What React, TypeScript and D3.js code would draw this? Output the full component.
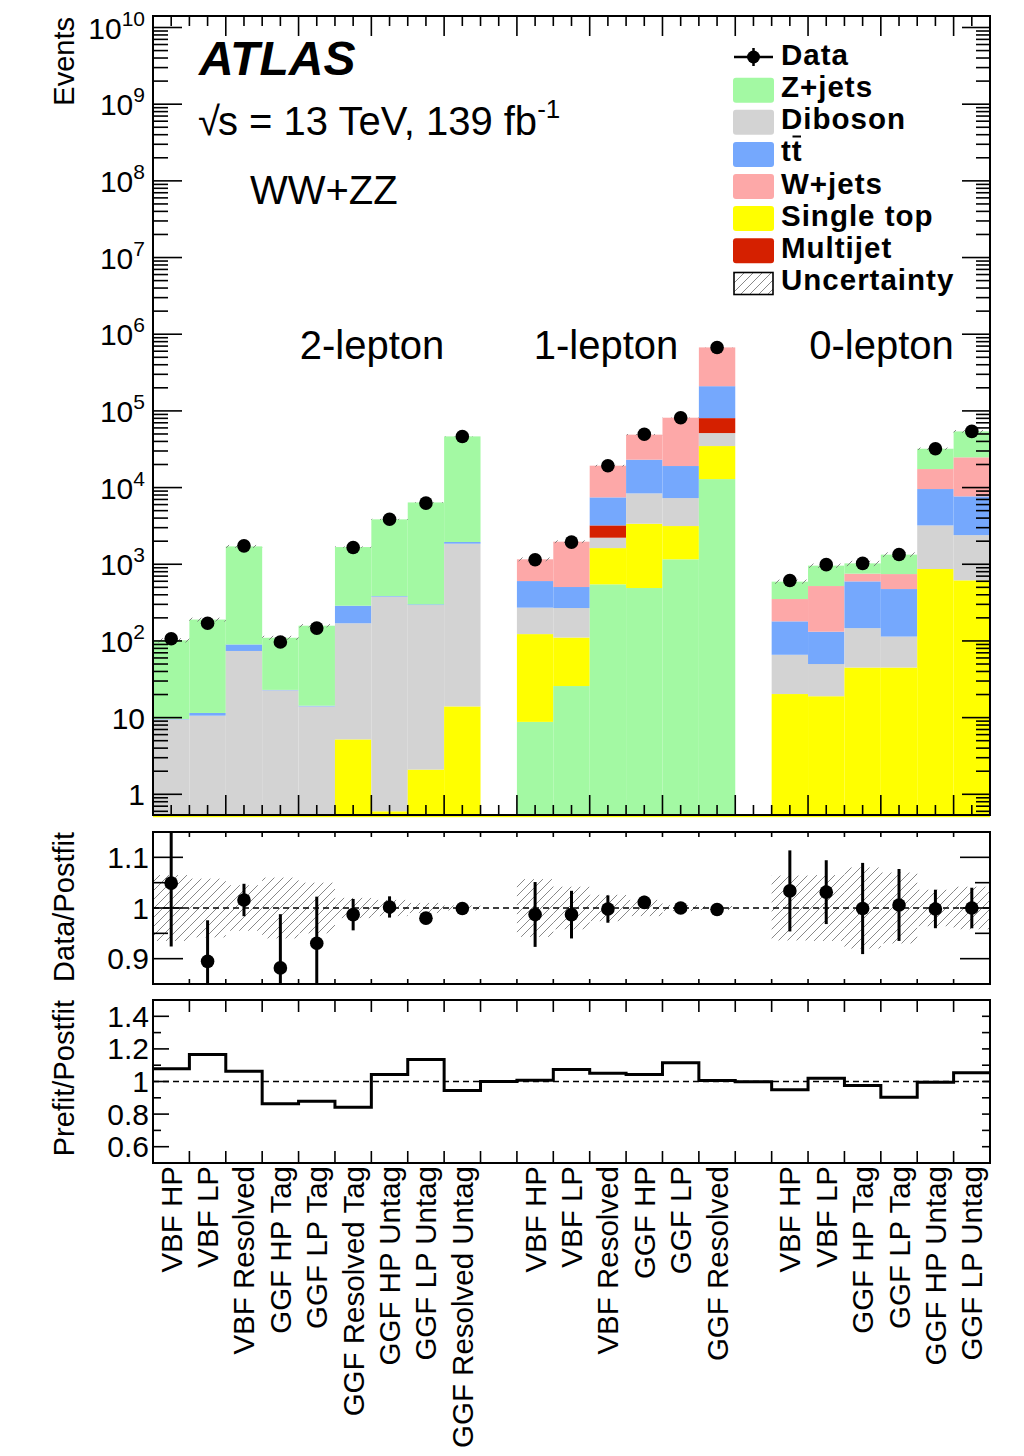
import React from "react";
import * as d3 from "d3";

// ---- bins ----
const categories = [
  "VBF HP", "VBF LP", "VBF Resolved", "GGF HP Tag", "GGF LP Tag", "GGF Resolved Tag",
  "GGF HP Untag", "GGF LP Untag", "GGF Resolved Untag", "",
  "VBF HP", "VBF LP", "VBF Resolved", "GGF HP", "GGF LP", "GGF Resolved", "",
  "VBF HP", "VBF LP", "GGF HP Tag", "GGF LP Tag", "GGF HP Untag", "GGF LP Untag",
];

// ---- analysis regions ----
const regionNames = ["2-lepton", "1-lepton", "0-lepton"];
const regionFirstBin = [0, 10, 17];
const regionLastBin = [8, 15, 22];
const regionLabelCenter = [6.02, 12.45, 20.02];
const stackOrder2L = ["singleTop", "diboson", "ttbar", "zJets"];
const stackOrder1L = ["zJets", "singleTop", "diboson", "multijet", "ttbar", "wJets"];
const stackOrder0L = ["singleTop", "diboson", "ttbar", "wJets", "zJets"];

// ---- post-fit yields per process ----
const zJets = [92.4, 178.5, 1620, 87, 143.7, 1388, 3465, 6100, 44550, 0, 8.8, 25.8, 547, 490, 1160, 12900, 0, 241, 439, 273, 590, 14650, 29200];
const diboson = [9.5, 10.6, 74, 22.7, 14, 164.8, 377.4, 291.9, 1841, 0, 149, 158, 595, 5020, 4150, 16600, 0, 45.7, 31, 102, 69, 2343, 1783];
const ttbar = [0.1, 0.9, 16, 0.3, 0.3, 118, 7, 6, 95, 0, 332, 236, 4240, 14700, 11800, 129500, 0, 114, 82, 451, 361, 6360, 5280];
const wJets = [0, 0, 0, 0, 0, 0, 0, 0, 0, 0, 556, 1465, 11850, 25900, 62400, 463000, 0, 172, 388, 156, 270, 7880, 17120];
const singleTop = [0, 0, 0, 0, 0, 5.2, 0.6, 2.1, 14, 0, 114, 85, 1078, 2890, 1990, 21900, 0, 20.3, 19, 45, 45, 867, 617];
const multijet = [0, 0, 0, 0, 0, 0, 0, 0, 0, 0, 0, 0, 990, 0, 0, 29100, 0, 0, 0, 0, 0, 0, 0];

// ---- observed data ----
const dataEvents = [107, 170, 1737, 97, 147, 1654, 3858, 6272, 46450, null, 1145, 1944, 19260, 49540, 81500, 671000, null, 613, 989, 1026, 1343, 32040, 54000];
const dataRatioErr = [0.125, 0.081, 0.032, 0.106, 0.092, 0.031, 0.021, 0.012, 0.005, null, 0.064, 0.047, 0.027, 0.013, 0.005, 0.002, null, 0.08, 0.063, 0.09, 0.071, 0.038, 0.04];
const postfitRelUnc = [0.065, 0.058, 0.045, 0.06, 0.05, 0.02, 0.016, 0.01, 0.005, null, 0.057, 0.042, 0.026, 0.016, 0.006, 0.004, null, 0.064, 0.065, 0.08, 0.07, 0.036, 0.042];
const prefitOverPostfit = [1.078, 1.166, 1.063, 0.863, 0.879, 0.842, 1.043, 1.135, 0.945, 1.0, 1.008, 1.074, 1.051, 1.043, 1.115, 1.006, 0.998, 0.949, 1.02, 0.975, 0.904, 0.996, 1.053];

// ---- axis ticks ----
const ratioTickValues = [0.9, 1, 1.1];
const ratioTickLabels = ["0.9", "1", "1.1"];
const prefitTickValues = [0.6, 0.8, 1, 1.2, 1.4];
const prefitTickLabels = ["0.6", "0.8", "1", "1.2", "1.4"];
const mainDecades = [0, 1, 2, 3, 4, 5, 6, 7, 8, 9, 10];

// ---- legend ----
const legendLabels = ["Z+jets", "Diboson", "tt", "W+jets", "Single top", "Multijet"];
const legendKeys = ["zJets", "diboson", "ttbar", "wJets", "singleTop", "multijet"];

const yields: Record<string, number[]> = { zJets, diboson, ttbar, wJets, singleTop, multijet };
const processColors: Record<string, string> = {
  zJets: "#a3f9a3",
  diboson: "#d3d3d3",
  ttbar: "#75a8fd",
  wJets: "#fda8a8",
  singleTop: "#ffff00",
  multijet: "#d52000",
};
const stackOrders = [stackOrder2L, stackOrder1L, stackOrder0L];

const W = 1024;
const H = 1456;
const L = 153;
const R = 990;
const mainTop = 16;
const mainBottom = 815;
const ratioTop = 832;
const ratioBottom = 984;
const prefitTop = 1000;
const prefitBottom = 1163;
const nBins = categories.length;

const FONT = "'Liberation Sans', Arial, Helvetica, sans-serif";

export default function App() {
  const x = d3.scaleLinear().domain([0, nBins]).range([L, R]);
  const yMain = d3.scaleLog().domain([Math.pow(10, -0.27), Math.pow(10, 10.15)]).range([mainBottom, mainTop]);
  const yRatio = d3.scaleLinear().domain([0.85, 1.15]).range([ratioBottom, ratioTop]);
  const yPrefit = d3.scaleLinear().domain([0.5, 1.5]).range([prefitBottom, prefitTop]);

  const bw = x(1) - x(0);
  const totals = categories.map((_, i) =>
    Object.keys(yields).reduce((s, k) => s + yields[k][i], 0)
  );

  // stacked histogram segments
  const segments: { x0: number; x1: number; y0: number; y1: number; color: string; key: string }[] = [];
  regionNames.forEach((_, r) => {
    for (let i = regionFirstBin[r]; i <= regionLastBin[r]; i++) {
      let cum = 0;
      stackOrders[r].forEach((p) => {
        const v = yields[p][i];
        if (v <= 0) return;
        const bottom = cum > 0 ? yMain(cum) : mainBottom;
        cum += v;
        segments.push({ x0: x(i), x1: x(i + 1), y0: yMain(cum), y1: bottom, color: processColors[p], key: `${p}-${i}` });
      });
    }
  });

  // log-axis tick positions
  const [lo, hi] = yMain.domain();
  const logTicks: { v: number; major: boolean }[] = [];
  for (let d = -1; d <= 10; d++) {
    for (let m = 1; m <= 9; m++) {
      const v = m * Math.pow(10, d);
      if (v >= lo && v <= hi) logTicks.push({ v, major: m === 1 });
    }
  }

  const halfTicks = d3.range(0, nBins + 0.001, 0.5);
  const binEdges = d3.range(1, nBins);

  const prefitLine = d3
    .line<number>()
    .x((_, i) => x(i))
    .y((d) => yPrefit(d))
    .curve(d3.curveStepAfter)([...prefitOverPostfit, prefitOverPostfit[nBins - 1]]);

  const tickLabelSize = 30;
  const dotR = 6.8;

  return (
    <svg
      width={W}
      height={H}
      viewBox={`0 0 ${W} ${H}`}
      style={{ position: "absolute", left: 0, top: 0, background: "#fff" }}
      fontFamily={FONT}
    >
      <defs>
        <pattern id="hatch" patternUnits="userSpaceOnUse" width={9} height={9}>
          <path d="M0,9 L9,0 M-2,2 L2,-2 M7,11 L11,7" stroke="#7a7a7a" strokeWidth={0.9} />
        </pattern>
        <clipPath id="clipMain">
          <rect x={L} y={mainTop} width={R - L} height={mainBottom - mainTop} />
        </clipPath>
        <clipPath id="clipRatio">
          <rect x={L} y={ratioTop} width={R - L} height={ratioBottom - ratioTop} />
        </clipPath>
      </defs>
      <rect x={0} y={0} width={W} height={H} fill="#fff" />

      {/* ===== main panel ===== */}
      <g clipPath="url(#clipMain)">
        {segments.map((s) => (
          <rect key={s.key} x={s.x0} y={s.y0} width={s.x1 - s.x0} height={Math.max(0, s.y1 - s.y0)} fill={s.color} />
        ))}
        {totals.map((t, i) =>
          postfitRelUnc[i] == null ? null : (
            <rect
              key={`unc-${i}`}
              x={x(i)}
              y={yMain(t * (1 + (postfitRelUnc[i] as number)))}
              width={bw}
              height={yMain(t * (1 - (postfitRelUnc[i] as number))) - yMain(t * (1 + (postfitRelUnc[i] as number)))}
              fill="url(#hatch)"
            />
          )
        )}
      </g>
      <line x1={L} x2={R} y1={mainBottom + 1.5} y2={mainBottom + 1.5} stroke="#ffff00" strokeWidth={1.5} />

      {/* main axis ticks */}
      {logTicks.map((t, i) => (
        <g key={`lt-${i}`} stroke="#000" strokeWidth={1.6}>
          <line x1={L} x2={L + (t.major ? 29 : 15)} y1={yMain(t.v)} y2={yMain(t.v)} />
          <line x1={R} x2={R - (t.major ? 28 : 14)} y1={yMain(t.v)} y2={yMain(t.v)} />
        </g>
      ))}
      {halfTicks.map((v, i) => {
        const major = Math.abs(v % 2) < 1e-6;
        const len = major ? 20 : 10;
        return (
          <g key={`xt-${i}`} stroke="#000" strokeWidth={1.6}>
            <line x1={x(v)} x2={x(v)} y1={mainBottom} y2={mainBottom - len} />
            <line x1={x(v)} x2={x(v)} y1={mainTop} y2={mainTop + len} />
          </g>
        );
      })}
      <rect x={L} y={mainTop} width={R - L} height={mainBottom - mainTop} fill="none" stroke="#000" strokeWidth={2} />

      {/* data points */}
      {dataEvents.map((d, i) => {
        if (d == null) return null;
        const cx = x(i + 0.5);
        const err = (dataRatioErr[i] as number) * d;
        return (
          <g key={`dp-${i}`}>
            <line x1={cx} x2={cx} y1={yMain(d + err)} y2={yMain(Math.max(d - err, 1e-3))} stroke="#000" strokeWidth={3} />
            <circle cx={cx} cy={yMain(d)} r={dotR} fill="#000" />
          </g>
        );
      })}

      {/* main y labels */}
      {mainDecades.map((d) => {
        const yy = yMain(Math.pow(10, d)) + 11;
        if (d === 0)
          return (
            <text key={`ml-${d}`} x={145} y={yy} textAnchor="end" fontSize={tickLabelSize}>
              1
            </text>
          );
        if (d === 1)
          return (
            <text key={`ml-${d}`} x={145} y={yy} textAnchor="end" fontSize={tickLabelSize}>
              10
            </text>
          );
        return (
          <text key={`ml-${d}`} x={145} y={yy} textAnchor="end" fontSize={tickLabelSize}>
            10
            <tspan dy={-13} fontSize={21}>
              {d}
            </tspan>
          </text>
        );
      })}
      <text transform={`translate(74,17) rotate(-90)`} textAnchor="end" fontSize={29}>
        Events
      </text>

      {/* annotations */}
      <text x={199} y={75} fontSize={48} fontWeight="bold" fontStyle="italic">
        ATLAS
      </text>
      <text x={198} y={135} fontSize={40}>
        √<tspan dx={-2}>s = 13 TeV, 139 fb</tspan>
        <tspan dy={-17} fontSize={26}>
          -1
        </tspan>
      </text>
      <text x={250} y={204} fontSize={40}>
        WW+ZZ
      </text>
      {regionNames.map((n, r) => (
        <text key={n} x={x(regionLabelCenter[r])} y={359} fontSize={40} textAnchor="middle">
          {n}
        </text>
      ))}

      {/* legend */}
      <g fontWeight="bold" fontSize={29.5} letterSpacing={1}>
        <line x1={734} x2={773} y1={57} y2={57} stroke="#000" strokeWidth={2.5} />
        <line x1={753.5} x2={753.5} y1={48} y2={66} stroke="#000" strokeWidth={2.5} />
        <circle cx={753.5} cy={57} r={6.5} fill="#000" />
        <text x={781} y={65}>
          Data
        </text>
        {legendKeys.map((k, j) => {
          const base = 97.2 + j * 32.1;
          return (
            <g key={k}>
              <rect x={733} y={base - 19.5} width={41} height={25} rx={3} fill={processColors[k]} />
              <text x={781} y={base}>
                {legendLabels[j]}
              </text>
            </g>
          );
        })}
        <line x1={792.5} x2={801} y1={136.5} y2={136.5} stroke="#000" strokeWidth={2} />
        <rect x={734} y={272.5} width={39} height={22} fill="url(#hatch)" stroke="#000" strokeWidth={1.6} />
        <text x={781} y={289.8}>
          Uncertainty
        </text>
      </g>

      {/* ===== Data / Postfit panel ===== */}
      <g clipPath="url(#clipRatio)">
        {totals.map((t, i) =>
          postfitRelUnc[i] == null ? null : (
            <rect
              key={`ru-${i}`}
              x={x(i)}
              y={yRatio(1 + (postfitRelUnc[i] as number))}
              width={bw}
              height={yRatio(1 - (postfitRelUnc[i] as number)) - yRatio(1 + (postfitRelUnc[i] as number))}
              fill="url(#hatch)"
            />
          )
        )}
        <line x1={L} x2={R} y1={yRatio(1)} y2={yRatio(1)} stroke="#000" strokeWidth={1.5} strokeDasharray="6,4" />
        {dataEvents.map((d, i) => {
          if (d == null) return null;
          const r = d / totals[i];
          const e = dataRatioErr[i] as number;
          const cx = x(i + 0.5);
          return (
            <g key={`rp-${i}`}>
              <line x1={cx} x2={cx} y1={yRatio(r + e)} y2={yRatio(r - e)} stroke="#000" strokeWidth={3} />
              <circle cx={cx} cy={yRatio(r)} r={dotR} fill="#000" />
            </g>
          );
        })}
      </g>
      {d3.range(0.85, 1.151, 0.05).map((v, i) => {
        const major = Math.abs(Math.round(v * 10) - v * 10) < 1e-6;
        const len = major ? 30 : 15;
        return (
          <g key={`ryt-${i}`} stroke="#000" strokeWidth={1.6}>
            <line x1={L} x2={L + len} y1={yRatio(v)} y2={yRatio(v)} />
            <line x1={R} x2={R - len} y1={yRatio(v)} y2={yRatio(v)} />
          </g>
        );
      })}
      {binEdges.map((v) => (
        <g key={`rxt-${v}`} stroke="#000" strokeWidth={1.6}>
          <line x1={x(v)} x2={x(v)} y1={ratioTop} y2={ratioTop + 5} />
          <line x1={x(v)} x2={x(v)} y1={ratioBottom} y2={ratioBottom - 5} />
        </g>
      ))}
      <rect x={L} y={ratioTop} width={R - L} height={ratioBottom - ratioTop} fill="none" stroke="#000" strokeWidth={2} />
      {ratioTickValues.map((v, i) => (
        <text key={`rl-${i}`} x={149} y={yRatio(v) + 10.5} textAnchor="end" fontSize={tickLabelSize}>
          {ratioTickLabels[i]}
        </text>
      ))}
      <text transform={`translate(74,832) rotate(-90)`} textAnchor="end" fontSize={29}>
        Data/Postfit
      </text>

      {/* ===== Prefit / Postfit panel ===== */}
      <line x1={L} x2={R} y1={yPrefit(1)} y2={yPrefit(1)} stroke="#000" strokeWidth={1.5} strokeDasharray="6,4" />
      <path d={prefitLine ?? ""} fill="none" stroke="#000" strokeWidth={3} />
      {d3.range(0.5, 1.501, 0.1).map((v, i) => {
        const major = Math.abs(Math.round(v * 5) - v * 5) < 1e-6;
        return (
          <g key={`pyt-${i}`} stroke="#000" strokeWidth={1.6}>
            <line x1={L} x2={L + (major ? 16 : 8)} y1={yPrefit(v)} y2={yPrefit(v)} />
            <line x1={R} x2={R - 8} y1={yPrefit(v)} y2={yPrefit(v)} />
          </g>
        );
      })}
      {binEdges.map((v) => (
        <g key={`pxt-${v}`} stroke="#000" strokeWidth={1.6}>
          <line x1={x(v)} x2={x(v)} y1={prefitTop} y2={prefitTop + 12} />
          <line x1={x(v)} x2={x(v)} y1={prefitBottom} y2={prefitBottom - 12} />
        </g>
      ))}
      <rect x={L} y={prefitTop} width={R - L} height={prefitBottom - prefitTop} fill="none" stroke="#000" strokeWidth={2} />
      {prefitTickValues.map((v, i) => (
        <text key={`pl-${i}`} x={149} y={yPrefit(v) + 10.5} textAnchor="end" fontSize={tickLabelSize}>
          {prefitTickLabels[i]}
        </text>
      ))}
      <text transform={`translate(74,1000) rotate(-90)`} textAnchor="end" fontSize={29}>
        Prefit/Postfit
      </text>

      {/* category labels */}
      {categories.map((c, i) =>
        c === "" ? null : (
          <text
            key={`cl-${i}`}
            transform={`translate(${x(i + 0.5) + 10.5},1166) rotate(-90)`}
            textAnchor="end"
            fontSize={29.5}
          >
            {c}
          </text>
        )
      )}
    </svg>
  );
}
